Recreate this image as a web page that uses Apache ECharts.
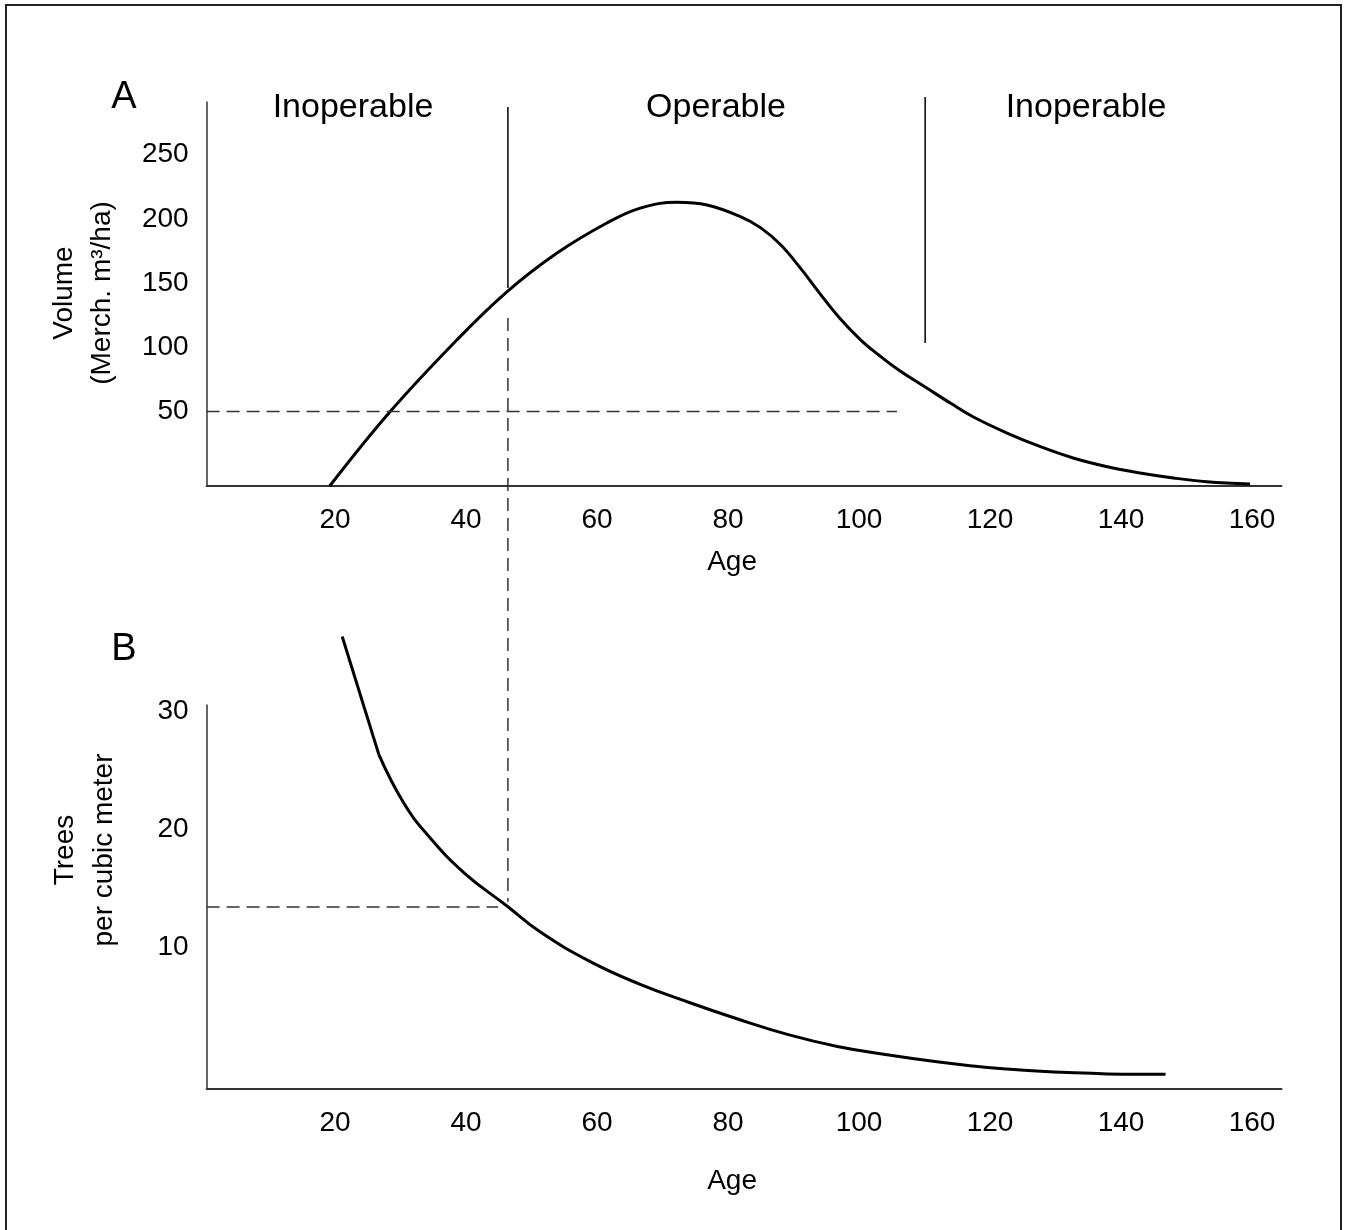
<!DOCTYPE html>
<html>
<head>
<meta charset="utf-8">
<script src="https://cdn.jsdelivr.net/npm/echarts@6/dist/echarts.min.js"></script>
<style>
  html, body { margin: 0; padding: 0; background: #fff; }
  #chart { width: 1345px; height: 1230px; }
</style>
</head>
<body>
<div id="chart"></div>
<script>
// ---- Data ----
const xTicks = [20, 40, 60, 80, 100, 120, 140, 160];
const volumeTicks = [50, 100, 150, 200, 250];
const treesTicks = [10, 20, 30];

// Panel A: merchantable volume vs age
const volumeAges = [19.2, 28.4, 38.6, 46.2, 53.9, 61.5, 66.6, 72.2, 76.8, 81.9, 85.0, 88.0, 91.0, 94.0, 97.0, 100.2, 103.0, 106.0, 110.4, 114.0, 117.4, 122.6, 127.7, 132.7, 137.9, 142.9, 148.0, 153.1, 159.7];
const volumeValues = [-8.0, 49.8, 105.7, 143.0, 173.4, 196.8, 208.4, 212.9, 210.8, 201.7, 193.0, 180.0, 162.0, 142.0, 123.0, 106.0, 94.0, 82.5, 68.1, 56.4, 45.9, 33.2, 22.6, 13.8, 7.0, 2.1, -1.8, -4.7, -6.5];

// Panel B: trees per cubic meter vs age
const treesAgesSteep = [21.1, 26.7];
const treesValuesSteep = [36.3, 26.3];
const treesAges = [26.7, 30.5, 34.3, 39.7, 46.35, 51.3, 58.9, 66.4, 74.2, 81.6, 89.2, 96.7, 104.3, 111.9, 117.4, 122.5, 127.7, 132.8, 137.9, 142.3, 146.8];
const treesValues = [26.3, 22.2, 19.4, 16.3, 13.45, 11.3, 8.8, 6.9, 5.3, 3.9, 2.6, 1.6, 0.9, 0.3, -0.05, -0.3, -0.5, -0.63, -0.72, -0.75, -0.75];

// Reference lines
const regionLabels = ['Inoperable', 'Operable', 'Inoperable'];
const cutoffAge = 46.4;          // start of operable period
const operableEndAge = 110.1;    // end of operable period
const minVolume = 50;            // minimum operable volume
const minVolumeLineEnd = 105.8;  // age where dashed 50 line stops
const treesAtCutoff = 13.4;      // trees per m3 at cutoff age
const treesLineEnd = 44.9;
const cutoffSolidVol = [287.1, 146.2];
const cutoffDashedVol = [122.8, -331.8];
const operableEndVol = [294.9, 103.3];

// ---- Helpers ----
const zip = (xs, ys) => xs.map((x, i) => [x, ys[i]]);
const FONT = '"Liberation Sans", Arial, Helvetica, sans-serif';
const AXIS_COLOR = '#333';

function refLine(xi, yi, pts, dashed, width, color) {
  return {
    type: 'line', xAxisIndex: xi, yAxisIndex: yi, data: pts,
    symbol: 'none', silent: true, clip: false, animation: false,
    lineStyle: { color: color || '#000', width: width || 1.5, type: dashed ? [13, 7] : 'solid' }
  };
}

function xAxisCfg(gridIndex, nameGap) {
  return {
    type: 'value', gridIndex, min: 0.4, max: 164.5,
    name: 'Age', nameLocation: 'middle', nameGap,
    nameTextStyle: { fontFamily: FONT, fontSize: 28, color: '#000', padding: [0, 24, 0, 0] },
    axisLine: { show: true, onZero: false, lineStyle: { color: AXIS_COLOR, width: 2 } },
    axisTick: { show: false }, splitLine: { show: false },
    axisLabel: { customValues: xTicks, margin: 20, fontFamily: FONT, fontSize: 28, color: '#000' }
  };
}
function yAxisCfg(gridIndex, min, max, ticks) {
  return {
    type: 'value', gridIndex, min, max,
    axisLine: { show: true, onZero: false, lineStyle: { color: AXIS_COLOR, width: 1.5 } },
    axisTick: { show: false }, splitLine: { show: false },
    axisLabel: { customValues: ticks, margin: 18, fontFamily: FONT, fontSize: 28, color: '#000' }
  };
}

const chart = echarts.init(document.getElementById('chart'), null, { renderer: 'canvas' });

const option = {
  backgroundColor: '#fff',
  animation: false,
  grid: [
    { left: 206.6, top: 102, width: 1074.9, height: 384 },
    { left: 206.6, top: 705, width: 1074.9, height: 384 }
  ],
  xAxis: [xAxisCfg(0, 62.5), xAxisCfg(1, 78.5)],
  yAxis: [yAxisCfg(0, -8, 291, volumeTicks), yAxisCfg(1, -2, 30.5, treesTicks)],
  series: [
    // Panel A curve
    {
      type: 'line', xAxisIndex: 0, yAxisIndex: 0, data: zip(volumeAges, volumeValues),
      smooth: 0.4, symbol: 'none', clip: false,
      lineStyle: { color: '#000', width: 3 }
    },
    // Panel B curve: steep straight part and smooth decline
    {
      type: 'line', xAxisIndex: 1, yAxisIndex: 1, data: zip(treesAgesSteep, treesValuesSteep),
      symbol: 'none', clip: false, lineStyle: { color: '#000', width: 3 }
    },
    {
      type: 'line', xAxisIndex: 1, yAxisIndex: 1, data: zip(treesAges, treesValues),
      smooth: 0.45, symbol: 'none', clip: false,
      lineStyle: { color: '#000', width: 3 }
    },
    // Panel A reference lines
    refLine(0, 0, [[cutoffAge, cutoffSolidVol[0]], [cutoffAge, cutoffSolidVol[1]]], false, 1.5, '#000'),
    refLine(0, 0, [[cutoffAge, cutoffDashedVol[0]], [cutoffAge, cutoffDashedVol[1]]], true, 1.5, '#333'),
    refLine(0, 0, [[operableEndAge, operableEndVol[0]], [operableEndAge, operableEndVol[1]]], false, 1.5, '#000'),
    refLine(0, 0, [[0.4, minVolume], [minVolumeLineEnd, minVolume]], true, 1.5, '#333'),
    // Panel B reference line
    refLine(1, 1, [[0.4, treesAtCutoff], [treesLineEnd, treesAtCutoff]], true, 1.5, '#333')
  ],
  graphic: [
    { type: 'rect', shape: { x: 6, y: 5, width: 1335, height: 1245 }, style: { fill: 'none', stroke: '#222', lineWidth: 2 }, silent: true },
    { type: 'text', x: 124, y: 98, style: { text: 'A', font: '38px ' + FONT, fill: '#000', align: 'center', verticalAlign: 'middle' } },
    { type: 'text', x: 124, y: 650, style: { text: 'B', font: '38px ' + FONT, fill: '#000', align: 'center', verticalAlign: 'middle' } },
    { type: 'text', x: 353, y: 108, style: { text: regionLabels[0], font: '34px ' + FONT, fill: '#000', align: 'center', verticalAlign: 'middle' } },
    { type: 'text', x: 716, y: 108, style: { text: regionLabels[1], font: '34px ' + FONT, fill: '#000', align: 'center', verticalAlign: 'middle' } },
    { type: 'text', x: 1086, y: 108, style: { text: regionLabels[2], font: '34px ' + FONT, fill: '#000', align: 'center', verticalAlign: 'middle' } },
    { type: 'text', x: 64, y: 293, rotation: Math.PI / 2, style: { text: 'Volume', font: '28px ' + FONT, fill: '#000', align: 'center', verticalAlign: 'middle' } },
    { type: 'text', x: 102, y: 293, rotation: Math.PI / 2, style: { text: '(Merch. m³/ha)', font: '28px ' + FONT, fill: '#000', align: 'center', verticalAlign: 'middle' } },
    { type: 'text', x: 65, y: 850, rotation: Math.PI / 2, style: { text: 'Trees', font: '28px ' + FONT, fill: '#000', align: 'center', verticalAlign: 'middle' } },
    { type: 'text', x: 104, y: 850, rotation: Math.PI / 2, style: { text: 'per cubic meter', font: '28px ' + FONT, fill: '#000', align: 'center', verticalAlign: 'middle' } }
  ]
};
chart.setOption(option);
</script>
</body>
</html>
